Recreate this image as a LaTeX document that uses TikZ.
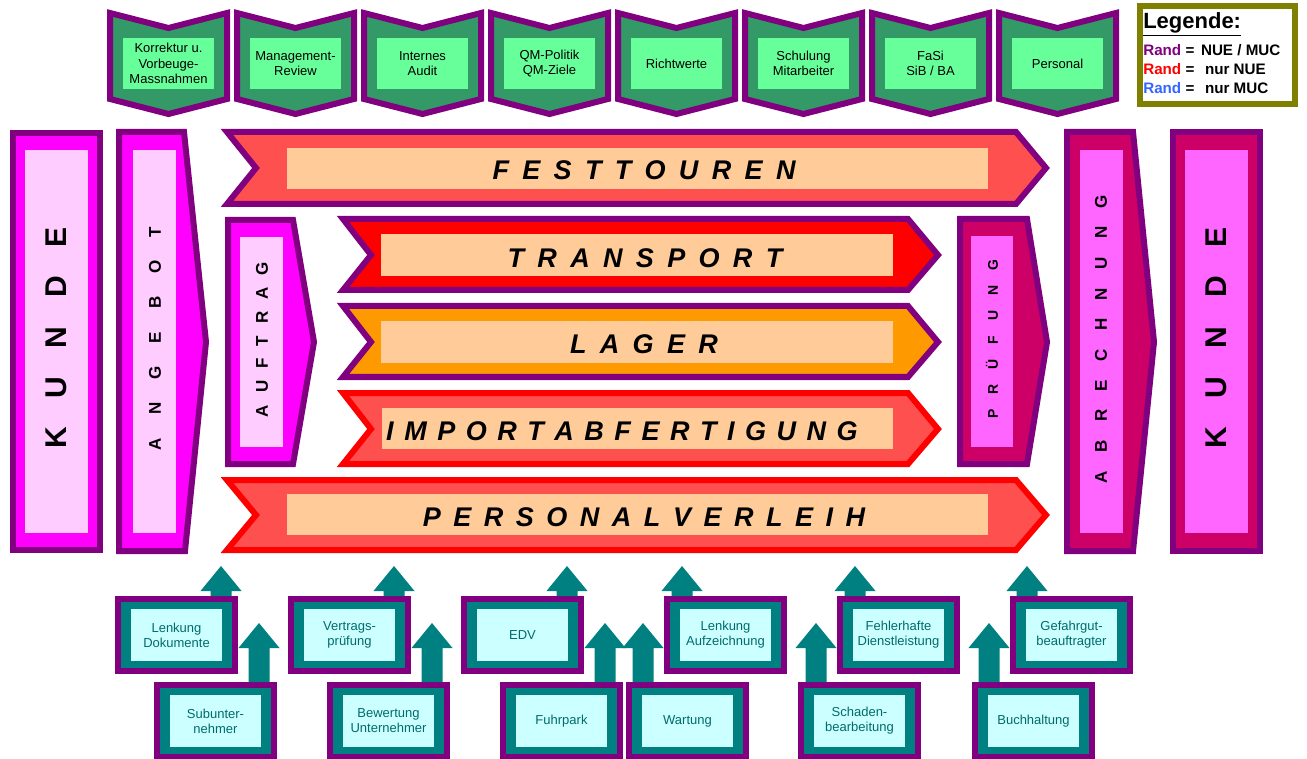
\documentclass[tikz,border=0pt]{standalone}
\usepackage{fontspec}
\setmainfont{Liberation Sans}
\usetikzlibrary{calc}
\definecolor{rpurple}{HTML}{800080}
\definecolor{rmagenta}{HTML}{FF00FF}
\definecolor{lpink}{HTML}{FFCCFF}
\definecolor{dmag}{HTML}{CC0066}
\definecolor{pink2}{HTML}{FF66FF}
\definecolor{salmon}{HTML}{FF5050}
\definecolor{peach}{HTML}{FFCC99}
\definecolor{rred}{HTML}{FF0000}
\definecolor{rorange}{HTML}{FF9900}
\definecolor{sgreen}{HTML}{339966}
\definecolor{lgreen}{HTML}{66FF99}
\definecolor{bteal}{HTML}{008080}
\definecolor{bcyan}{HTML}{CCFFFF}
\definecolor{tealtext}{HTML}{006B6B}
\definecolor{olive}{HTML}{808000}
\definecolor{lblue}{HTML}{3366FF}
\makeatletter
\newcommand\spreadtext[2]{\def\sp@gap{\hskip #1\relax}\let\sp@first\relax
  \@tfor\sp@c:=#2\do{\sp@first\sp@c\def\sp@first{\sp@gap}}}
\makeatother
\tikzset{
  border/.style={draw=rpurple, line width=4.5pt, line join=miter},
  redborder/.style={draw=rred, line width=4.5pt, line join=miter},
  bandtext/.style={font=\bfseries\itshape\fontsize{20.25}{22}\selectfont, inner sep=0pt},
  bigvert/.style={font=\bfseries\fontsize{22.5}{24}\selectfont, rotate=90, inner sep=0pt},
  midvert/.style={font=\bfseries\fontsize{12.75}{14}\selectfont, rotate=90, inner sep=0pt},
  smallvert/.style={font=\bfseries\fontsize{10.5}{12}\selectfont, rotate=90, inner sep=0pt},
  toptext/.style={font=\fontsize{9.75}{11.5}\selectfont, align=center, inner sep=0pt},
  bottext/.style={font=\fontsize{9.75}{11.25}\selectfont, align=center, text=tealtext, inner sep=0pt},
  legtext/.style={font=\bfseries\fontsize{11.4}{13}\selectfont, anchor=base west, inner sep=0pt},
}
% top chevron: name, center x, text
\newcommand\topchev[3]{%
  \draw[border, fill=sgreen] (#2-58.5,13) -- (#2,28) -- (#2+58.5,13) -- (#2+58.5,99) -- (#2,114) -- (#2-58.5,99) -- cycle;
  \fill[lgreen] (#2-45.5,38) rectangle (#2+45.5,89);
  \node[toptext] (#1) at (#2,63.5) {#3};}
% bottom box: name, left x, top y, text
\newcommand\botbox[4]{%
  \draw[border, fill=bteal] (#2+3,#3+3) rectangle (#2+120,#3+75);
  \fill[bcyan] (#2+16,#3+13) rectangle (#2+107,#3+65);
  \coordinate (#1-top) at (#2+61.5,#3);
  \node[bottext] (#1) at (#2+61.5,#3+39) {#4};}
% block arrow up: box name, dx from box centre, length
\newcommand\uparr[3]{%
  \fill[bteal] ($(#1-top)+(#2,0)$) ++(-10.5,0) -- ++(0,-#3+25) -- ++(-10,0) -- ++(20.5,-25) -- ++(20.5,25) -- ++(-10,0) -- ++(0,#3-25) -- cycle;}
\begin{document}
\begin{tikzpicture}[x=0.75pt, y=-0.75pt]
\useasboundingbox (0,0) rectangle (1307,759);

% ---------- top chevrons ----------
\topchev{korr}{168.5}{Korrektur u.\\Vorbeuge-\\Massnahmen}
\topchev{mgmt}{295.5}{Management-\\Review}
\topchev{audit}{422.5}{Internes\\Audit}
\topchev{qm}{549.5}{QM-Politik\\QM-Ziele}
\topchev{richt}{676.5}{Richtwerte}
\topchev{schul}{803.5}{Schulung\\Mitarbeiter}
\topchev{fasi}{930.5}{FaSi\\SiB / BA}
\topchev{pers}{1057.5}{Personal}

% ---------- legend ----------
\draw[draw=olive, line width=4.5pt, fill=white] (1140,6) rectangle (1295,104);
\node[font=\bfseries\fontsize{16.5}{18}\selectfont, anchor=base west, inner sep=0pt] (leg) at (1143,29) {\underline{Legende:}};
\node[legtext] (leg1) at (1143,56) {\textcolor{rpurple}{Rand} =\hspace{5pt}NUE / MUC};
\node[legtext] (leg2) at (1143,75) {\textcolor{rred}{Rand} =\hspace{8pt}nur NUE};
\node[legtext] (leg3) at (1143,94) {\textcolor{lblue}{Rand} =\hspace{8pt}nur MUC};

% ---------- left columns ----------
\draw[border, fill=rmagenta] (13,133) rectangle (100,550);
\fill[lpink] (25,150) rectangle (88,533);
\node[bigvert] (kunde1) at (56,338) {\spreadtext{21.4pt}{KUNDE}};

\draw[border, fill=rmagenta] (119,132) -- (184,132) -- (206,342) -- (185,551) -- (119,551) -- cycle;
\fill[lpink] (133,150) rectangle (176,533);
\node[midvert] (angebot) at (155,338.5) {\spreadtext{17.25pt}{ANGEBOT}};

\draw[border, fill=rmagenta] (228,220) -- (293,220) -- (314,342) -- (293,464) -- (228,464) -- cycle;
\fill[lpink] (240,237) rectangle (283,447);
\node[midvert] (auftrag) at (262,339.5) {\spreadtext{9pt}{AUFTRAG}};

% ---------- horizontal bands ----------
\draw[border, fill=salmon] (227,132) -- (1016,132) -- (1046,168) -- (1016,204) -- (227,204) -- (256,168) -- cycle;
\fill[peach] (287,148) rectangle (988,189);
\node[bandtext] (fest) at (644,170) {\spreadtext{10pt}{FESTTOUREN}};

\draw[border, fill=rred] (343,219) -- (908,219) -- (938,255) -- (908,290) -- (343,290) -- (371,255) -- cycle;
\fill[peach] (381,234) rectangle (893,276);
\node[bandtext] (transport) at (645,258) {\spreadtext{10pt}{TRANSPORT}};

\draw[border, fill=rorange] (343,306) -- (908,306) -- (938,342) -- (908,377) -- (343,377) -- (371,342) -- cycle;
\fill[peach] (381,321) rectangle (893,363);
\node[bandtext] (lager) at (644,344) {\spreadtext{10pt}{LAGER}};

\draw[redborder, fill=salmon] (343,393) -- (908,393) -- (938,429) -- (908,464) -- (343,464) -- (371,429) -- cycle;
\fill[peach] (382,408) rectangle (893,449);
\node[bandtext] (import) at (622,431) {\spreadtext{7.9pt}{IMPORTABFERTIGUNG}};

\draw[redborder, fill=salmon] (227,480) -- (1016,480) -- (1046,515) -- (1016,550) -- (227,550) -- (256,515) -- cycle;
\fill[peach] (287,494) rectangle (988,535);
\node[bandtext] (verleih) at (644,517) {\spreadtext{9.4pt}{PERSONALVERLEIH}};

% ---------- right columns ----------
\draw[border, fill=dmag] (960,219) -- (1027,219) -- (1047,342) -- (1027,464) -- (960,464) -- cycle;
\fill[pink2] (971,236) rectangle (1013,447);
\node[smallvert] (pruef) at (992,339) {\spreadtext{11.25pt}{PRÜFUNG}};

\draw[border, fill=dmag] (1067,132) -- (1133,132) -- (1154,342) -- (1133,551) -- (1067,551) -- cycle;
\fill[pink2] (1080,150) rectangle (1123,533);
\node[midvert] (abrech) at (1101,339) {\spreadtext{13.8pt}{ABRECHNUNG}};

\draw[border, fill=dmag] (1173,132) rectangle (1260,551);
\fill[pink2] (1185,150) rectangle (1248,533);
\node[bigvert] (kunde2) at (1216,338) {\spreadtext{21.4pt}{KUNDE}};

% ---------- bottom boxes ----------
\botbox{lenkdok}{115}{596}{Lenkung\\Dokumente}
\botbox{vertrag}{288}{596}{Vertrags-\\prüfung}
\botbox{edv}{461}{596}{EDV}
\botbox{lenkauf}{664}{596}{Lenkung\\Aufzeichnung}
\botbox{fehler}{837}{596}{Fehlerhafte\\Dienstleistung}
\botbox{gefahr}{1010}{596}{Gefahrgut-\\beauftragter}

\uparr{lenkdok}{44.5}{30}
\uparr{vertrag}{44.5}{30}
\uparr{edv}{44.5}{30}
\uparr{lenkauf}{-43.5}{30}
\uparr{fehler}{-43.5}{30}
\uparr{gefahr}{-44.5}{30}

\botbox{subunt}{154}{682}{Subunter-\\nehmer}
\botbox{bewert}{327}{682}{Bewertung\\Unternehmer}
\botbox{fuhr}{500}{682}{Fuhrpark}
\botbox{wart}{626}{682}{Wartung}
\botbox{schaden}{798}{682}{Schaden-\\bearbeitung}
\botbox{buch}{972}{682}{Buchhaltung}

\uparr{subunt}{43.5}{59}
\uparr{bewert}{43.5}{59}
\uparr{fuhr}{43.5}{59}
\uparr{wart}{-44.5}{59}
\uparr{schaden}{-43.5}{59}
\uparr{buch}{-44.5}{59}
\end{tikzpicture}
\end{document}
